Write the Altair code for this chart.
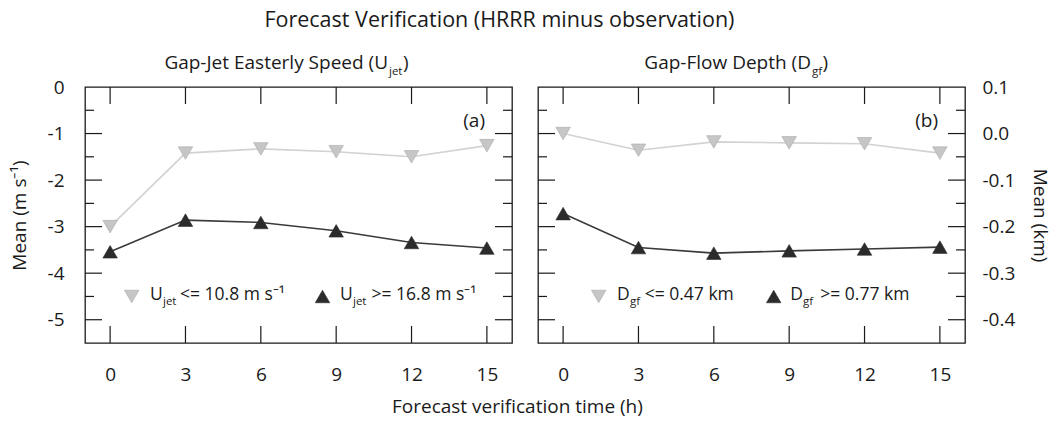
import altair as alt
import pandas as pd

# ---------------- data ----------------
hours = [0, 3, 6, 9, 12, 15]
ujet_weak = [-3.00, -1.42, -1.33, -1.39, -1.50, -1.26]      # Ujet <= 10.8 m s-1
ujet_strong = [-3.54, -2.86, -2.91, -3.09, -3.34, -3.46]    # Ujet >= 16.8 m s-1
dgf_shallow = [0.000, -0.036, -0.018, -0.020, -0.022, -0.042]  # Dgf <= 0.47 km
dgf_deep = [-0.172, -0.245, -0.257, -0.252, -0.248, -0.244]    # Dgf >= 0.77 km

x_ticks = [0, 3, 6, 9, 12, 15]
left_labels = [0, -1, -2, -3, -4, -5]
left_major = [-1, -2, -3, -4, -5]
left_minor = [-0.5, -1.5, -2.5, -3.5, -4.5]
right_labels = [0.1, 0.0, -0.1, -0.2, -0.3, -0.4]
right_major = [0.0, -0.1, -0.2, -0.3, -0.4]
right_minor = [0.05, -0.05, -0.15, -0.25, -0.35]

# ---------------- styling ----------------
W, H = 427, 256
FONT = "Open Sans"
TXT = "#1a1a1a"
FRAME = "#1a1a1a"
LIGHT_FILL = "#c6c6c6"
LIGHT_STROKE = "#a9a9a9"
LIGHT_LINE = "#d2d2d2"
DARK_FILL = "#2b2b2b"
DARK_LINE = "#3a3a3a"
DUMMY = pd.DataFrame({"k": [0]})


def txt(s, x, y, size, align="left"):
    return alt.Chart(DUMMY).mark_text(
        text=s, align=align, baseline="middle", fontSize=size, font=FONT, color=TXT
    ).encode(x=alt.value(x), y=alt.value(y))


def tri(x, y, shape, fill, stroke):
    return alt.Chart(DUMMY).mark_point(
        shape=shape, filled=True, fill=fill, stroke=stroke, strokeWidth=0.6,
        size=210, opacity=1
    ).encode(x=alt.value(x), y=alt.value(y))


def panel(light, dark, domain, labels, major, minor, yaxis_kw, title_parts,
          legend, letter):
    xscale = alt.Scale(domain=[-1, 16], nice=False, zero=False)
    yscale = alt.Scale(domain=domain, nice=False, zero=False)
    xaxis = alt.Axis(values=x_ticks, ticks=False, tickSize=0, domain=False,
                     grid=False, labelPadding=22, labelFontSize=19,
                     labelFont=FONT, labelColor=TXT, labelFlush=False,
                     labelOverlap=False, title=None)
    yaxis = alt.Axis(values=labels, ticks=False, tickSize=0, domain=False,
                     grid=False, labelFontSize=19, labelFont=FONT,
                     labelColor=TXT, labelFlush=False, labelOverlap=False,
                     titleFontSize=19, titleFont=FONT, titleColor=TXT,
                     titleFontWeight="normal", **yaxis_kw)

    def X(f):
        return alt.X(f, scale=xscale, axis=xaxis)

    def Y(f):
        return alt.Y(f, scale=yscale, axis=yaxis)

    df_l = pd.DataFrame({"hour": hours, "value": light})
    df_d = pd.DataFrame({"hour": hours, "value": dark})

    layers = []
    layers.append(alt.Chart(df_l).mark_line(color=LIGHT_LINE, strokeWidth=1.6)
                  .encode(x=X("hour:Q"), y=Y("value:Q")))
    layers.append(alt.Chart(df_d).mark_line(color=DARK_LINE, strokeWidth=1.6)
                  .encode(x=X("hour:Q"), y=Y("value:Q")))
    layers.append(alt.Chart(df_l).mark_point(
        shape="triangle-down", filled=True, fill=LIGHT_FILL, stroke=LIGHT_STROKE,
        strokeWidth=0.6, size=210, opacity=1)
        .encode(x=X("hour:Q"), y=Y("value:Q")))
    layers.append(alt.Chart(df_d).mark_point(
        shape="triangle-up", filled=True, fill=DARK_FILL, stroke=DARK_FILL,
        strokeWidth=0.6, size=210, opacity=1)
        .encode(x=X("hour:Q"), y=Y("value:Q")))

    # inward ticks (left / right sides)
    dmaj = pd.DataFrame({"v": major})
    dmin = pd.DataFrame({"v": minor})
    for d, L in ((dmaj, 17), (dmin, 9)):
        layers.append(alt.Chart(d).mark_rule(color=FRAME, strokeWidth=1.2)
                      .encode(y=Y("v:Q"), x=alt.value(0), x2=alt.value(L)))
        layers.append(alt.Chart(d).mark_rule(color=FRAME, strokeWidth=1.2)
                      .encode(y=Y("v:Q"), x=alt.value(W), x2=alt.value(W - L)))
    # inward ticks (top / bottom)
    dx = pd.DataFrame({"h": x_ticks})
    layers.append(alt.Chart(dx).mark_rule(color=FRAME, strokeWidth=1.2)
                  .encode(x=X("h:Q"), y=alt.value(0), y2=alt.value(17)))
    layers.append(alt.Chart(dx).mark_rule(color=FRAME, strokeWidth=1.2)
                  .encode(x=X("h:Q"), y=alt.value(H), y2=alt.value(H - 17)))

    # panel title with subscript
    (main_t, main_x), (sub_t, sub_x), (close_t, close_x) = title_parts
    layers.append(txt(main_t, main_x, -24, 19, align="right"))
    layers.append(txt(sub_t, sub_x, -15, 11.5))
    layers.append(txt(close_t, close_x, -24, 19))

    # in-plot legend
    for (tx, shape, fill, stroke), (a, ax), (s, sx), (r, rx) in legend:
        layers.append(tri(tx, 209.5, shape, fill, stroke))
        layers.append(txt(a, ax, 208, 17.5))
        layers.append(txt(s, sx, 215, 11.5))
        layers.append(txt(r, rx, 208, 17.5))

    # panel letter
    layers.append(txt(letter, 400, 34, 19, align="right"))

    return alt.layer(*layers).properties(width=W, height=H)


left = panel(
    ujet_weak, ujet_strong, [-5.5, 0], left_labels, left_major, left_minor,
    dict(orient="left", labelPadding=21, title="Mean (m s⁻¹)", titlePadding=18,
         labelExpr="datum.value < 0 ? '-' + format(-datum.value, 'd') : format(datum.value, 'd')"),
    (("Gap-Jet Easterly Speed (U", 303), ("jet", 304), (")", 318)),
    [((46.7, "triangle-down", LIGHT_FILL, LIGHT_STROKE), ("U", 65), ("jet", 78), ("<= 10.8 m s⁻¹", 95)),
     ((237.5, "triangle-up", DARK_FILL, DARK_FILL), ("U", 255), ("jet", 268), (">= 16.8 m s⁻¹", 286.5))],
    "(a)",
)

right = panel(
    dgf_shallow, dgf_deep, [-0.45, 0.1], right_labels, right_major, right_minor,
    dict(orient="right", labelPadding=17, title="Mean (km)", titlePadding=15,
         labelExpr="datum.value < 0 ? '-' + format(-datum.value, '.1f') : format(datum.value, '.1f')"),
    (("Gap-Flow Depth (D", 273), ("gf", 274), (")", 284.5)),
    [((60.7, "triangle-down", LIGHT_FILL, LIGHT_STROKE), ("D", 79), ("gf", 92), ("<= 0.47 km", 106.7)),
     ((235.7, "triangle-up", DARK_FILL, DARK_FILL), ("D", 252.3), ("gf", 265), (">= 0.77 km", 282.3))],
    "(b)",
)

inner = alt.hconcat(left, right, spacing=22).properties(
    title=alt.TitleParams("Forecast verification time (h)", orient="bottom",
                          anchor="middle", fontSize=19, font=FONT,
                          fontWeight="normal", color=TXT, offset=13, dx=-12)
)

chart = alt.vconcat(inner).properties(
    title=alt.TitleParams("Forecast Verification (HRRR minus observation)",
                          anchor="middle", fontSize=21.5, font=FONT,
                          fontWeight="normal", color=TXT, offset=22, dx=-30),
    padding={"left": 9, "top": 9, "right": 6, "bottom": 3},
).configure_view(stroke=FRAME, strokeWidth=1.3).configure_concat(spacing=0)

chart.save("out.html", embed_options={"renderer": "svg", "actions": False})
